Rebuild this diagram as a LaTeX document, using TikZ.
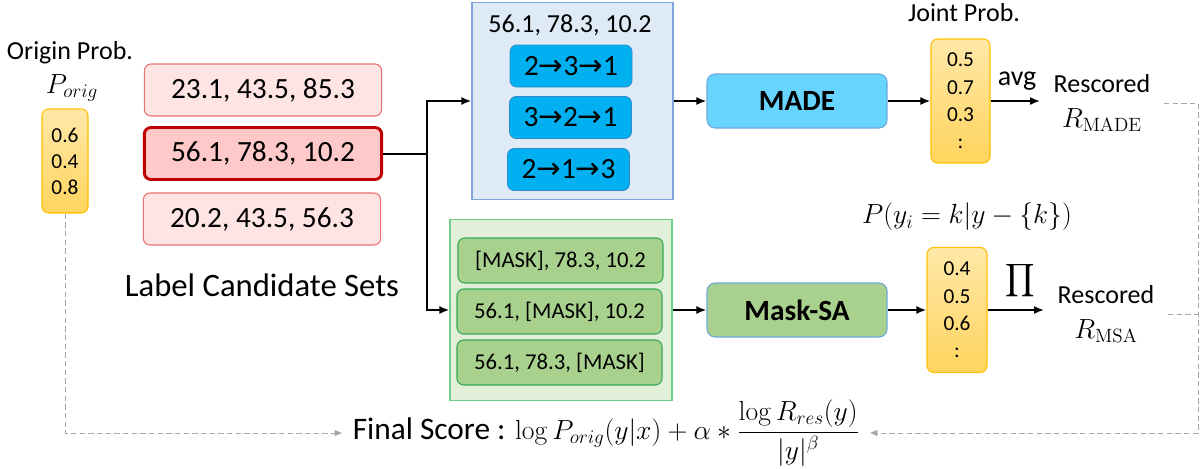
\documentclass[tikz,border=0pt]{standalone}
\usepackage[no-math]{fontspec}
\setmainfont{Carlito}
\newfontfamily\arrowfont{DejaVu Sans}
\usepackage{amsmath}
\usepackage{tikz}
\usetikzlibrary{arrows.meta}

\definecolor{candfill}{HTML}{FFE4E4}
\definecolor{candline}{HTML}{E87070}
\definecolor{pickfill}{HTML}{FFC9C9}
\definecolor{pickline}{HTML}{C00000}
\definecolor{madebg}{HTML}{DEEBF7}
\definecolor{madeline}{HTML}{7FA5DC}
\definecolor{orderfill}{HTML}{00B0F0}
\definecolor{orderline}{HTML}{2E8BC8}
\definecolor{modelfill}{HTML}{66D4FF}
\definecolor{modelline}{HTML}{6FA8DC}
\definecolor{maskbg}{HTML}{E2F0D9}
\definecolor{maskline}{HTML}{70CC88}
\definecolor{maskfill}{HTML}{A9D18E}
\definecolor{maskedge}{HTML}{33AA55}
\definecolor{probtop}{HTML}{FFE8A8}
\definecolor{probbot}{HTML}{FFD45E}
\definecolor{probline}{HTML}{FFC000}
\definecolor{dashgray}{HTML}{A6A6A6}

\newcommand{\ordto}{{\arrowfont →}}

\begin{document}
\begin{tikzpicture}[x=0.75pt,y=-0.75pt]%[pixel grid]
    \tikzstyle{cand} = [draw=candline, fill=candfill, line width=0.8pt,
    rounded corners=5pt, minimum width=178pt, minimum height=39pt,
    font=\fontsize{22}{26}\selectfont]
    \tikzstyle{pick} = [cand, draw=pickline, fill=pickfill, line width=2.2pt]
    \tikzstyle{order} = [draw=orderline, fill=orderfill, line width=0.6pt,
    rounded corners=5pt, minimum width=91.5pt, minimum height=31.5pt,
    font=\fontsize{22}{26}\selectfont]
    \tikzstyle{masked} = [draw=maskedge, fill=maskfill, line width=0.8pt,
    rounded corners=5pt, minimum width=153.75pt, minimum height=33.75pt,
    font=\fontsize{17}{20}\selectfont]
    \tikzstyle{model} = [draw=modelline, line width=0.8pt, rounded corners=6pt,
    minimum width=135pt, minimum height=40.5pt,
    font=\fontsize{22}{26}\selectfont\bfseries]
    \tikzstyle{prob} = [draw=probline, line width=0.8pt, top color=probtop,
    bottom color=probbot, rounded corners=5pt, align=center, inner sep=0pt,
    font=\fontsize{16}{20.5}\selectfont]
    \tikzstyle{txt} = [inner sep=2pt, align=center]
    \tikzstyle{rescored} = [txt, inner sep=10pt, font=\fontsize{19.5}{26}\selectfont]
    \tikzstyle{feed} = [-{Latex[length=7.5pt,width=6pt]}, line width=1.5pt]
    \tikzstyle{dashback} = [-{Triangle[length=5.5pt,width=4.5pt]}, dashgray,
    dash pattern=on 4pt off 2.5pt, line width=0.75pt]
    \useasboundingbox (0,0) rectangle (1203,468);

    % original scores
    \node[txt, font=\fontsize{19.5}{23}\selectfont] (origtitle) at (70,53) {Origin Prob.};
    \node[txt, font=\fontsize{21}{24}\selectfont] (origsym) at (72,88) {$P_{orig}$};
    \node[prob, minimum width=34.5pt, minimum height=78pt,
    font=\fontsize{16}{19.5}\selectfont] (orig) at (65,161) {0.6\\0.4\\0.8};

    % candidates
    \node[cand] (c1) at (263,90) {23.1, 43.5, 85.3};
    \node[pick] (c2) at (263,153.5) {56.1, 78.3, 10.2};
    \node[cand] (c3) at (262,219) {20.2, 43.5, 56.3};
    \node[txt, font=\fontsize{24.5}{29}\selectfont] (candtitle) at (262,285)
    {Label Candidate Sets};

    % MADE branch
    \node[draw=madeline, fill=madebg, line width=0.8pt, minimum width=150.75pt,
    minimum height=147.75pt] (madebox) at (572.5,101) {};
    \node[txt, font=\fontsize{19.5}{23}\selectfont] (madeset) at (570,25) {56.1, 78.3, 10.2};
    \node[order] (o1) at (571,66) {2\ordto3\ordto1};
    \node[order] (o2) at (570.5,117.5) {3\ordto2\ordto1};
    \node[order] (o3) at (568.5,169.5) {2\ordto1\ordto3};
    \node[model, fill=modelfill] (made) at (797,101) {MADE};
    \node[txt, font=\fontsize{19.5}{23}\selectfont] (jointtitle) at (964,13) {Joint Prob.};
    \node[prob, minimum width=44.25pt, minimum height=93pt] (pmade) at (960.5,101)
    {0.5\\0.7\\0.3\\:};
    \node[txt, font=\fontsize{21}{25}\selectfont] (avg) at (1017,81) {avg};
    \node[rescored] (rmade) at (1102,103) {Rescored\\{\fontsize{21}{26}\selectfont$R_{\mathrm{MADE}}$}};

    % Mask-SA branch
    \node[draw=maskline, fill=maskbg, line width=0.8pt, minimum width=166.5pt,
    minimum height=135.75pt] (maskbox) at (561,310) {};
    \node[masked] (m1) at (560.5,260.5) {[MASK], 78.3, 10.2};
    \node[masked] (m2) at (559.5,311.5) {56.1, [MASK], 10.2};
    \node[masked] (m3) at (559.5,362.5) {56.1, 78.3, [MASK]};
    \node[model, fill=maskfill] (msa) at (797,310) {Mask-SA};
    \node[txt, font=\fontsize{22}{25}\selectfont] (cond) at (967,217) {$P(y_i=k|y-\{k\})$};
    \node[prob, minimum width=45pt, minimum height=93.75pt] (pmsa) at (957,310)
    {0.4\\0.5\\0.6\\:};
    \node[txt, font=\fontsize{17}{20}\selectfont] (prodsym) at (1020,281) {$\displaystyle\prod$};
    \node[rescored] (rmsa) at (1106,314) {Rescored\\{\fontsize{21}{26}\selectfont$R_{\mathrm{MSA}}$}};

    % final score
    \node[txt, inner sep=8pt, font=\fontsize{23.5}{28}\selectfont] (final) at (606,433)
    {Final Score : {\fontsize{20}{24}\selectfont
    $\log P_{orig}(y|x)+\alpha*\dfrac{\textstyle\log R_{res}(y)}{\textstyle|y|^{\beta}}$}};

    % connectors
    \coordinate (split) at (427,153.5);
    \coordinate (corner) at (1198,433);
    \draw[line width=1.5pt] (c2) -- (split);
    \draw[feed] (split) |- (madebox);
    \draw[feed] (split) |- (maskbox);
    \draw[feed] (madebox) -- (made);
    \draw[feed] (made) -- (pmade);
    \draw[feed] (pmade) -- (pmade -| rmade.west);
    \draw[feed] (maskbox) -- (msa);
    \draw[feed] (msa) -- (pmsa);
    \draw[feed] (pmsa) -- (pmsa -| rmsa.west);
    \draw[dashback] (orig) |- (final);
    \draw[dashback] (rmade) -| (corner) -- (final);
    \draw[dashgray, dash pattern=on 4pt off 2.5pt, line width=0.75pt]
    (rmsa) -- (rmsa -| corner);
\end{tikzpicture}
\end{document}
